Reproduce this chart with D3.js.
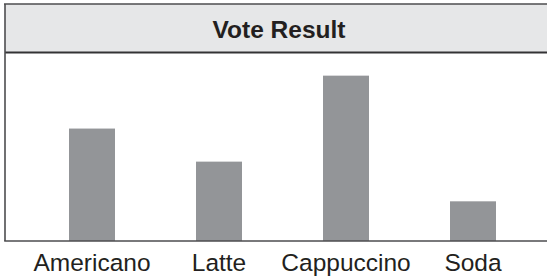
<!DOCTYPE html>
<html>
<head>
<meta charset="utf-8">
<script src="https://cdn.jsdelivr.net/npm/d3@7"></script>
<style>
  html, body { margin: 0; padding: 0; background: #ffffff; }
  svg { display: block; }
</style>
</head>
<body>
<div id="chart"></div>
<script>
const title = "Vote Result";
const categories = ["Americano", "Latte", "Cappuccino", "Soda"];
const votes = [17, 12, 25, 6];

const W = 547, H = 279;
const boxLeft = 5, boxTop = 4, headerBottom = 52.5, baseline = 241;

const svg = d3.select("#chart").append("svg")
  .attr("width", W).attr("height", H);

// header
svg.append("rect")
  .attr("x", boxLeft).attr("y", boxTop)
  .attr("width", W - boxLeft).attr("height", headerBottom - boxTop)
  .attr("fill", "#e6e7e8");

svg.append("text")
  .attr("x", 279).attr("y", 37.5)
  .attr("text-anchor", "middle")
  .attr("font-family", "'Liberation Sans', Arial, Helvetica, sans-serif")
  .attr("font-weight", "bold")
  .attr("font-size", 24.5)
  .attr("fill", "#231f20")
  .text(title);

// scales
const x = d3.scaleBand()
  .domain(categories)
  .range([5.5, 559.5])
  .paddingInner(81 / 127)
  .paddingOuter(0.5);

const y = d3.scaleLinear()
  .domain([0, 28.5])
  .range([baseline, headerBottom]);

// bars
svg.append("g").selectAll("rect")
  .data(categories)
  .join("rect")
  .attr("x", d => x(d))
  .attr("width", x.bandwidth())
  .attr("y", (d, i) => y(votes[i]))
  .attr("height", (d, i) => baseline - y(votes[i]))
  .attr("fill", "#939598");

// borders
const stroke = "#4d4d4f";
svg.append("line")
  .attr("x1", boxLeft - 1).attr("x2", W).attr("y1", boxTop).attr("y2", boxTop)
  .attr("stroke", stroke).attr("stroke-width", 1.6);
svg.append("line")
  .attr("x1", boxLeft).attr("x2", W).attr("y1", headerBottom).attr("y2", headerBottom)
  .attr("stroke", "#333335").attr("stroke-width", 2);
svg.append("line")
  .attr("x1", boxLeft).attr("x2", boxLeft).attr("y1", boxTop).attr("y2", baseline)
  .attr("stroke", stroke).attr("stroke-width", 1.6);

// x axis
const xAxis = d3.axisBottom(x).tickSize(0).tickPadding(12.5);
const gx = svg.append("g")
  .attr("transform", `translate(0,${baseline})`)
  .call(xAxis);
gx.select(".domain").remove();
gx.selectAll("text")
  .attr("font-family", "'Liberation Sans', Arial, Helvetica, sans-serif")
  .attr("font-size", 24.5)
  .attr("fill", "#231f20");

svg.append("line")
  .attr("x1", boxLeft - 0.8).attr("x2", W).attr("y1", baseline).attr("y2", baseline)
  .attr("stroke", stroke).attr("stroke-width", 1.6);
</script>
</body>
</html>
